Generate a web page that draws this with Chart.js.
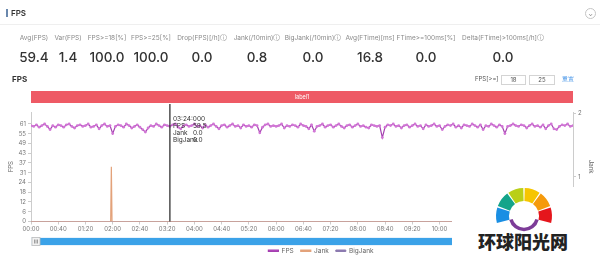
<!DOCTYPE html>
<html>
<head>
<meta charset="utf-8">
<script src="https://cdn.jsdelivr.net/npm/chart.js@4.4.1/dist/chart.umd.min.js"></script>
<style>
html,body{margin:0;padding:0;width:600px;height:258px;overflow:hidden;background:#fff;font-family:Inter,"Noto Sans",sans-serif;}
#wrap{position:relative;width:600px;height:258px;}
#c{position:absolute;left:0;top:0;}
.abs{position:absolute;white-space:nowrap;line-height:1;}
.lbl{font-size:6.5px;color:#8a8a8a;transform:translateX(-50%);top:35px;}
.val{font-size:13.5px;color:#333;font-weight:500;transform:translateX(-50%);top:51px;}
.box{position:absolute;border:1px solid #d4d4d4;height:8px;font-size:6px;color:#555;text-align:center;line-height:8px;}
</style>
</head>
<body>
<div id="wrap">
  <canvas id="c" width="600" height="258"></canvas>
  <div class="abs" style="left:6px;top:9px;width:2px;height:8px;background:#6a88ad;"></div>
  <div class="abs" style="left:11px;top:9px;font-size:8px;font-weight:600;color:#333;">FPS</div>
  <div class="abs" style="left:585px;top:8px;width:9px;height:9px;border:1px solid #c4c4c4;border-radius:50%;font-size:6px;color:#777;text-align:center;line-height:9px;">&#8964;</div>
  <div class="abs" style="left:0;top:24px;width:600px;height:1px;background:#efefef;"></div>
  <div id="stats"></div>
  <div class="abs" style="left:12px;top:75px;font-size:8px;font-weight:700;color:#333;">FPS</div>
  <div class="abs" style="left:475px;top:76px;font-size:6px;color:#555;">FPS[&gt;=]</div>
  <div class="box" id="th1" style="left:501px;top:75px;width:23px;"></div>
  <div class="box" id="th2" style="left:529px;top:75px;width:24px;"></div>
  <div class="abs" style="left:562px;top:76px;font-size:6px;color:#3a8ee6;">重置</div>
  <div id="wm" class="abs" style="left:452px;top:187px;width:148px;height:71px;background:#fff;">
    <svg id="fan" width="148" height="46" style="position:absolute;left:0;top:0;"></svg>
    <div class="abs" style="left:26px;top:45px;font-size:18px;font-weight:900;color:#222;font-family:'Noto Sans CJK SC',sans-serif;">环球阳光网</div>
  </div>
</div>
<script>
// ---- data ----
const statLabels = ['Avg(FPS)','Var(FPS)','FPS>=18[%]','FPS>=25[%]','Drop(FPS)[/h]ⓘ','Jank(/10min)ⓘ','BigJank(/10min)ⓘ','Avg(FTime)[ms]','FTime>=100ms[%]','Delta(FTime)>100ms[/h]ⓘ'];
const statValues = ['59.4','1.4','100.0','100.0','0.0','0.8','0.0','16.8','0.0','0.0'];
const fpsThresholds = ['18','25'];
const sampleStep = 4; // seconds between FPS samples
const fpsValues = [
 60,59.5,60.5,59,60,61,59.5,57.5,60,59,
 60.5,60,59,60.5,61,59.5,58.5,60,60.5,59.5,
 60,61,59,59.5,60.5,58,60,61,59.5,60,
 55,59.5,60.5,60,59,61,60,58.5,59.5,60.5,
 59,57.5,56,58.5,60,59.5,61,60,59,60.5,
 60,59.5,60.5,61,59,58,60,60.5,59.5,60,
 61,59.5,60,58.5,60.5,59,60,61,59.5,58,
 60,60.5,59,60,61,59.5,60,58.5,60.5,59.5,
 60,59,60.5,60,55.5,59,60.5,61,59.5,60,
 59.5,60,61,58.5,60,59.5,60.5,60,59,61,
 60,59.5,58,60.5,56.5,59.5,60,61,59,60,
 60.5,59,60,61,59.5,58.5,60,60.5,59,60,
 61,59.5,60,59,58.5,60.5,60,59.5,60,52.5,
 59,60.5,60,61,59.5,60,58.5,60,60.5,59,
 60,61,59.5,60,58,60.5,59.5,60,61,59.5,
 60,57.5,59.5,60.5,60,61,59,60,58.5,60.5,
 60,59.5,61,60,59,60.5,57.5,60,59.5,61,
 60,59,60.5,59.5,55,59.5,60,61,60,59.5,
 60.5,60,58.5,60,61,59.5,60,59,60.5,58,
 60,61,58,57.5,59.5,60.5,60,61,59.5,60
];
const jankTimes = [0,117,118,119,796];
const jankValues = [0,0,1,0,0];
const bigJankTimes = [0,796];
const bigJankValues = [0,0];
const xTickValues = [0,40,80,120,160,200,240,280,320,360,400,440,480,520,560,600,640,680,720,760];
const xTickLabels = ['00:00','00:40','01:20','02:00','02:40','03:20','04:00','04:40','05:20','06:00','06:40','07:20','08:00','08:40','09:20','10:00','10:40','11:20','12:00','12:40'];
const yTickValues = [0,6.1,12.2,18.3,24.4,30.5,36.6,42.7,48.8,54.9,61];
const yTickLabels = ['0','6','12','18','24','31','37','43','49','55','61'];
const yRTickValues = [1,2];
const yRTickLabels = ['1','2'];
const cursorTime = 204;
const cursorLabel = '03:24:000';
const markerLabel = 'label1';
const durationMax = 796;

// ---- header (HTML) ----
const statCenters = [34,68,107,151,202,257,313,370,426,503];
const stats = document.getElementById('stats');
statLabels.forEach((t,i)=>{
  const l=document.createElement('div'); l.className='abs lbl'; l.style.left=statCenters[i]+'px'; l.textContent=t; stats.appendChild(l);
  const v=document.createElement('div'); v.className='abs val'; v.style.left=statCenters[i]+'px'; v.textContent=statValues[i]; stats.appendChild(v);
});
document.getElementById('th1').textContent=fpsThresholds[0];
document.getElementById('th2').textContent=fpsThresholds[1];

// watermark fan
(function(){
  const svg=document.getElementById('fan'); const cx=72, cy=29, ro=28, ri=15;
  const cols=['#1a8fe3','#14a48a','#b9cf17','#f6c500','#f59a0c','#e5161c'];
  const a0=196, a1=-16, n=6, gap=3, span=(a0-a1)/n;
  const P=(r,a)=>[cx+r*Math.cos(a*Math.PI/180), cy-r*Math.sin(a*Math.PI/180)];
  let html='';
  for(let i=0;i<n;i++){
    const s=a0-i*span-gap/2, e=a0-(i+1)*span+gap/2;
    const p1=P(ro,s),p2=P(ro,e),p3=P(ri,e),p4=P(ri,s);
    html+=`<path d="M${p1} A${ro},${ro} 0 0 1 ${p2} L${p3} A${ri},${ri} 0 0 0 ${p4} Z" fill="${cols[i]}"/>`;
  }
  const q1=P(13.5,195), q2=P(13.5,345);
  html+=`<path d="M${q1} A13.5,13.5 0 0 0 ${q2}" fill="none" stroke="#7d3c98" stroke-width="3.5"/>`;
  svg.innerHTML=html;
})();

// ---- chart ----
const fpsData = fpsValues.map((v,i)=>({x:i*sampleStep, y:v}));
const jankData = jankTimes.map((t,i)=>({x:t, y:jankValues[i]}));
const bigJankData = bigJankTimes.map((t,i)=>({x:t, y:bigJankValues[i]}));

const decoPlugin = {
  id:'deco',
  beforeDraw(chart){
    const lg = chart.legend;
    if (lg) { const h = lg.bottom - lg.top; lg.left = 42; lg.top = 240.5; lg.bottom = lg.top + h; }
  },
  beforeDatasetsDraw(chart){
    const {ctx, scales:{x}} = chart;
    const l = x.getPixelForValue(0), r = x.getPixelForValue(durationMax);
    ctx.save();
    ctx.fillStyle = '#ee5a65';
    ctx.fillRect(l, 91, r-l, 12);
    ctx.fillStyle = '#fff'; ctx.font = '5.5px Inter'; ctx.textAlign='center'; ctx.textBaseline='middle';
    ctx.fillText(markerLabel, (l+r)/2, 97);
    // slider
    ctx.fillStyle = '#e8f3fc'; ctx.fillRect(l, 237, r-l, 9);
    ctx.fillStyle = '#3ba2e8'; ctx.fillRect(l+9, 238, r-l-9, 7);
    ctx.fillStyle = '#f2f2f2'; ctx.strokeStyle='#bbb'; ctx.lineWidth=0.8;
    ctx.fillRect(l+1, 237.5, 8, 8); ctx.strokeRect(l+1, 237.5, 8, 8);
    ctx.strokeStyle='#888'; ctx.beginPath();
    for (const dx of [3.5,5,6.5]) { ctx.moveTo(l+dx, 239.5); ctx.lineTo(l+dx, 243.5); }
    ctx.stroke();
    ctx.restore();
  },
  afterDatasetsDraw(chart){
    const {ctx, scales:{x}, chartArea} = chart;
    const cx = x.getPixelForValue(cursorTime);
    ctx.save();
    ctx.strokeStyle = '#222'; ctx.lineWidth = 1.2;
    ctx.beginPath(); ctx.moveTo(cx, 104); ctx.lineTo(cx, chartArea.bottom); ctx.stroke();
    ctx.fillStyle = '#333'; ctx.font = '6.5px Inter'; ctx.textBaseline='middle'; ctx.textAlign='left';
    ctx.fillText(cursorLabel, cx+3, 119);
    const fpsAt = fpsValues[Math.round(cursorTime/sampleStep)];
    const rows = [['FPS', fpsAt.toFixed(1)], ['Jank', '0.0'], ['BigJank', '0.0']];
    rows.forEach((r,i)=>{ ctx.fillText(r[0], cx+3, 126+i*7); ctx.fillText(r[1], cx+23, 126+i*7); });
    ctx.restore();
  }
};

new Chart(document.getElementById('c'), {
  type:'line',
  data:{
    datasets:[
      {label:'FPS', data:fpsData, yAxisID:'y', borderColor:'#a43fb0', backgroundColor:'#b84fc2', borderWidth:1.2,
       pointRadius:1.4, pointBackgroundColor:'#d276d6', pointBorderWidth:0, tension:0, order:0},
      {label:'Jank', data:jankData, yAxisID:'yJ', borderColor:'#e3a27a', backgroundColor:'#e3a27a', borderWidth:1.2,
       pointRadius:0, tension:0, order:1},
      {label:'BigJank', data:bigJankData, yAxisID:'yJ', borderColor:'#8c7bb0', backgroundColor:'#8c7bb0', borderWidth:1,
       pointRadius:0, tension:0, order:2}
    ]
  },
  options:{
    responsive:false, animation:false, devicePixelRatio:1,
    layout:{padding:{top:112, left:0, right:0, bottom:0}},
    plugins:{
      legend:{position:'bottom', labels:{font:{size:6.5, family:'Inter'}, color:'#666', boxWidth:10, boxHeight:1.5, padding:7}},
      tooltip:{enabled:false},
      title:{display:false}
    },
    scales:{
      x:{type:'linear', min:0, max:durationMax,
         afterBuildTicks(s){ s.ticks = xTickValues.map(v=>({value:v})); },
         ticks:{callback:(v,i)=>xTickLabels[i], font:{size:6, family:'Inter'}, color:'#777', maxRotation:0, autoSkip:false, padding:1},
         grid:{drawOnChartArea:false, tickLength:3, color:'#ccc'}, border:{color:'#ccc'},
         afterFit(s){ s.height = 13; }},
      y:{position:'left', min:0, max:68.5,
         afterBuildTicks(s){ s.ticks = yTickValues.map(v=>({value:v})); },
         ticks:{callback:(v,i)=>yTickLabels[i], font:{size:6, family:'Inter'}, color:'#777', padding:2},
         grid:{drawOnChartArea:false, tickLength:3, color:'#ccc'}, border:{color:'#ccc'},
         title:{display:true, text:'FPS', font:{size:6, family:'Inter'}, color:'#666', padding:{top:8,bottom:0}},
         afterFit(s){ s.width = 31; }},
      yR:{position:'right', min:0.297, max:2.016,
         afterBuildTicks(s){ s.ticks = yRTickValues.map(v=>({value:v})); },
         ticks:{callback:(v,i)=>yRTickLabels[i], font:{size:6, family:'Inter'}, color:'#777', padding:2},
         grid:{drawOnChartArea:false, tickLength:3, color:'#ccc'}, border:{color:'#ccc'},
         title:{display:true, text:'Jank', font:{size:6, family:'Inter'}, color:'#666', padding:{top:6,bottom:0}},
         afterFit(s){ s.width = 27; }},
      yJ:{display:false, min:0, max:2}
    }
  },
  plugins:[decoPlugin]
});
</script>
</body>
</html>
